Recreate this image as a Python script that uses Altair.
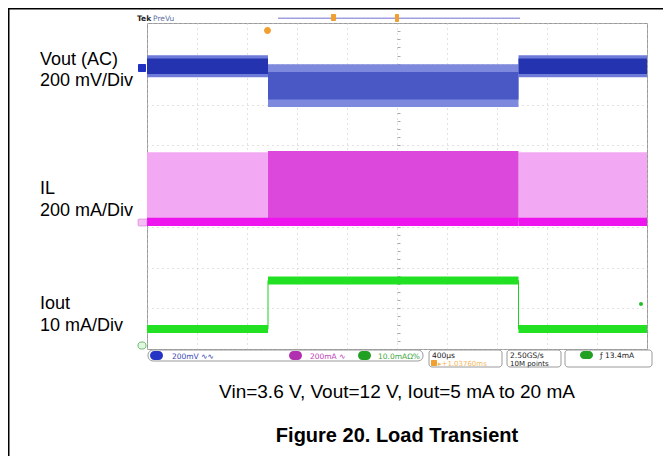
import altair as alt
import pandas as pd

# ---------------- data ----------------
# time axis: 400 us/div, 10 divisions -> 0..4000 us ; vertical in divisions (-4..4)
seg_start = [0, 968, 2972]          # us
seg_end = [968, 2972, 4000]         # us
load = ["5 mA", "20 mA", "5 mA"]
vout_top = [3.21, 2.99, 3.21]       # Vout (AC) ripple envelope, div
vout_bot = [2.67, 1.94, 2.67]
vout_core_top = [3.13, 2.80, 3.13]  # dense part of the ripple, div
vout_core_bot = [2.75, 2.12, 2.75]
il_peak = [0.83, 0.86, 0.83]        # inductor current peaks, div
il_base = [-0.88, -0.88, -0.88]     # inductor current valley, div
iout_level = [-3.51, -2.32, -3.51]  # load current, div

step_t = [0, 968, 2972, 4000]
step_iout = [-3.51, -2.32, -3.51, -3.51]

seg = pd.DataFrame({"start": seg_start, "end": seg_end, "load": load,
                    "vtop": vout_top, "vbot": vout_bot,
                    "vctop": vout_core_top, "vcbot": vout_core_bot,
                    "ilpk": il_peak, "ilb": il_base, "iout": iout_level})
step = pd.DataFrame({"t": step_t, "iout": step_iout})

X0, Y0 = 147, 23   # plot origin in picture pixels
W, H = 500, 326

xs = alt.Scale(domain=[0, 4000], nice=False, zero=False)
ys = alt.Scale(domain=[-4, 4], nice=False, zero=False)

grid_x = alt.Axis(values=list(range(0, 4001, 400)), grid=True, gridDash=[1, 4],
                  gridColor="#c4c4c4", ticks=False, labels=False, domain=False, title=None)
grid_y = alt.Axis(values=list(range(-4, 5)), grid=True, gridDash=[1, 4],
                  gridColor="#c4c4c4", ticks=False, labels=False, domain=False, title=None)

base = alt.Chart(seg)

def band(filt, top, bot, color):
    c = base.transform_filter(filt) if filt else base
    return c.mark_rect(color=color).encode(
        x=alt.X("start:Q", scale=xs, axis=None), x2="end:Q",
        y=alt.Y(top, scale=ys, axis=None), y2=bot)

grid_layer = base.mark_point(opacity=0).encode(
    x=alt.X("start:Q", scale=xs, axis=grid_x),
    y=alt.Y("vtop:Q", scale=ys, axis=grid_y))

tick_x = base.mark_point(opacity=0).encode(
    x=alt.X("start:Q", scale=xs, axis=alt.Axis(orient="bottom", offset=-163,
            values=list(range(0, 4001, 80)), tickSize=3, tickColor="#a8a8a8",
            labels=False, domain=False, grid=False, title=None)),
    y=alt.Y("vtop:Q", scale=ys, axis=alt.Axis(orient="right", offset=-250,
            values=[round(-4 + 0.2 * i, 1) for i in range(41)], tickSize=3,
            tickColor="#a8a8a8", labels=False, domain=False, grid=False, title=None)))

vout_fringe_l = band("datum.load == '5 mA'", "vtop:Q", "vbot:Q", "#6f7bd8")
vout_fringe_h = band("datum.load == '20 mA'", "vtop:Q", "vbot:Q", "#7d89dc")
vout_core_l = band("datum.load == '5 mA'", "vctop:Q", "vcbot:Q", "#2434b0")
vout_core_h = band("datum.load == '20 mA'", "vctop:Q", "vcbot:Q", "#4a58c6")
il_light = band("datum.load == '5 mA'", "ilpk:Q", "ilb:Q", "#f2a8f2")
il_heavy = band("datum.load == '20 mA'", "ilpk:Q", "ilb:Q", "#dc48dc")
il_valley = base.transform_calculate(a="datum.ilb + 0.1", b="datum.ilb - 0.1").mark_rect(
    color="#ee14ee").encode(x=alt.X("start:Q", scale=xs, axis=None), x2="end:Q",
                            y=alt.Y("a:Q", scale=ys, axis=None), y2="b:Q")
iout_edge = alt.Chart(step).mark_line(color="#22d022", strokeWidth=1,
                                      interpolate="step-after").encode(
    x=alt.X("t:Q", scale=xs, axis=None), y=alt.Y("iout:Q", scale=ys, axis=None))
iout_band = base.transform_calculate(a="datum.iout + 0.1", b="datum.iout - 0.1").mark_rect(
    color="#22e022").encode(x=alt.X("start:Q", scale=xs, axis=None), x2="end:Q",
                            y=alt.Y("a:Q", scale=ys, axis=None), y2="b:Q")

one = alt.Data(values=[{"k": 0}])

def T(X, Y, s, size=18, color="black", weight="normal", align="left",
      font="Liberation Sans"):
    return alt.Chart(one).mark_text(text=s, fontSize=size, color=color,
                                    fontWeight=weight, align=align,
                                    baseline="alphabetic", font=font).encode(
        x=alt.value(X - X0), y=alt.value(Y - Y0))

def R(x1, y1, x2, y2, fill, stroke=None, r=0, sw=1):
    kw = dict(fill=fill, cornerRadius=r)
    if stroke:
        kw.update(stroke=stroke, strokeWidth=sw)
    return alt.Chart(one).mark_rect(**kw).encode(
        x=alt.value(x1 - X0), x2=alt.value(x2 - X0),
        y=alt.value(y1 - Y0), y2=alt.value(y2 - Y0))

SF = "DejaVu Sans"
deco = [
    # outer document frame
    R(8, 8, 672, 9.5, "black"),
    R(8, 8, 9.5, 470, "black"),
    # scope header
    T(137, 21, "Tek", 7.5, "#222222", "bold", font=SF),
    T(153, 21, "PreVu", 7.5, "#6070a0", font=SF),
    R(278, 17.5, 520, 19, "#a0a0e0"),
    R(331, 14, 336, 21, "#f0a030", r=1),
    R(395, 14, 399, 22, "#f0a030", r=1),
    R(264, 27, 271, 34, "#f0a030", r=3.5),
    # channel markers
    R(138, 64, 146, 72, "#2030c0", r=1),
    R(138, 219, 147, 226, "#f4c0f4", "#d060d0", r=1, sw=0.5),
    R(138, 342, 146, 349, "#e0f8e0", "#40a040", r=3, sw=0.7),
    R(639, 302, 643, 306, "#22c022", r=2),
    # status bar
    R(148, 350, 423, 361, "white", "#9a9a9a", r=5, sw=1),
    R(150, 351, 163, 360, "#2434c4", r=4.5),
    T(172, 358.5, "200mV \u223f\u223f", 7.5, "#3545b5", font=SF),
    R(289, 351, 302, 360, "#b030b0", r=4.5),
    T(310, 358.5, "200mA  \u223f", 7.5, "#c040b8", font=SF),
    R(358, 351, 371, 360, "#22a022", r=4.5),
    T(378, 358.5, "10.0mA\u03a9%", 7.5, "#40a840", font=SF),
    R(429, 350, 502, 367, "white", "#9a9a9a", r=3, sw=1),
    T(432, 357.5, "400\u00b5s", 7.5, "#222222", font=SF),
    R(431, 360, 437, 366, "#f0a030", r=1),
    T(438, 365.5, "\u25b8+1.03760ms", 7, "#f4b860", font=SF),
    R(507, 350, 561, 367, "white", "#9a9a9a", r=3, sw=1),
    T(510, 357.5, "2.50GS/s", 7.5, "#222222", font=SF),
    T(510, 365.5, "10M points", 7, "#222222", font=SF),
    R(565, 350, 652, 367, "white", "#9a9a9a", r=3, sw=1),
    R(580, 351, 593, 359, "#22a022", r=4),
    T(600, 358, "\u0192 13.4mA", 7.5, "#222222", font=SF),
    # channel labels
    T(40, 65, "Vout (AC)"),
    T(40, 86, "200 mV/Div"),
    T(40, 194, "IL"),
    T(40, 216, "200 mA/Div"),
    T(40, 309, "Iout"),
    T(40, 331, "10 mA/Div"),
    # captions
    T(397, 398, "Vin=3.6 V, Vout=12 V, Iout=5 mA to 20 mA", 19, align="center"),
    T(397, 442, "Figure 20. Load Transient", 20, weight="bold", align="center"),
]

chart = alt.layer(
    grid_layer, tick_x,
    il_light, il_heavy, il_valley,
    vout_fringe_l, vout_fringe_h, vout_core_l, vout_core_h,
    iout_edge, iout_band,
    *deco
).resolve_axis(x="independent", y="independent").properties(
    width=W, height=H, autosize="none",
    padding={"left": X0 - 8, "top": Y0 - 8, "right": 16, "bottom": 107},
).configure_view(stroke="#9a9a9a", strokeWidth=1)

chart.save("out.html", embed_options={"renderer": "svg", "actions": False})
